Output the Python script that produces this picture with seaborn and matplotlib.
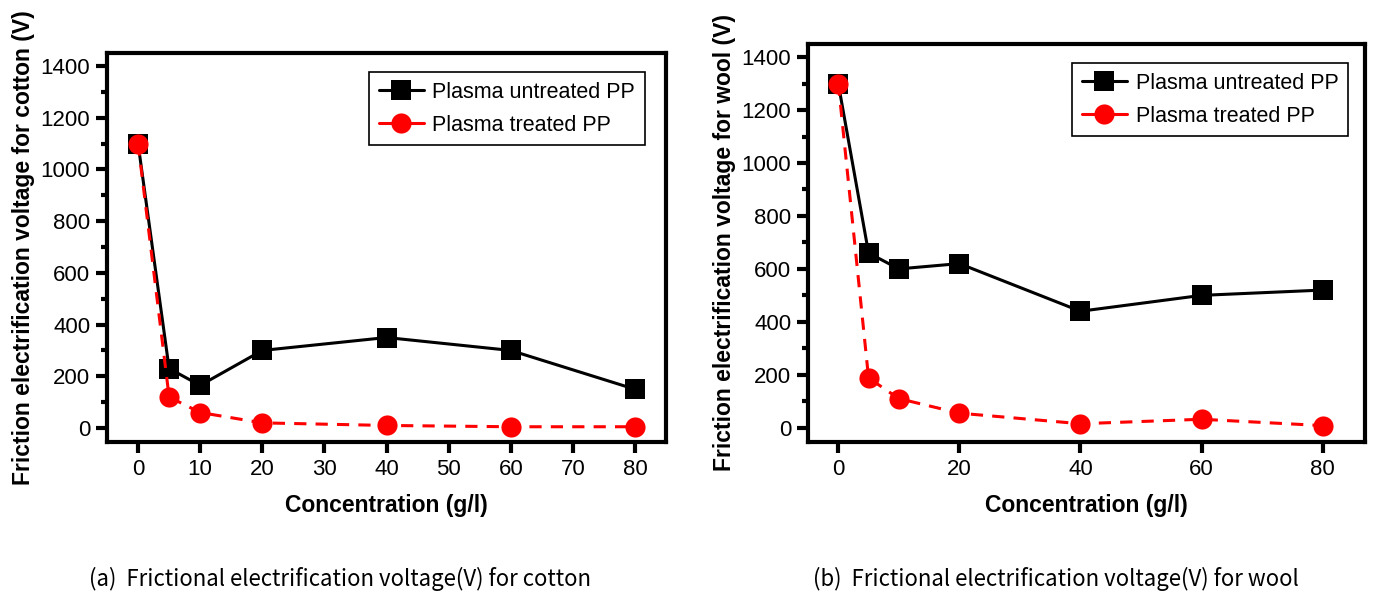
import numpy as np
import pandas as pd
import seaborn as sns
import matplotlib.pyplot as plt
from matplotlib.ticker import MultipleLocator

conc = [0, 5, 10, 20, 40, 60, 80]

cotton_untreated = [1100, 230, 165, 300, 350, 300, 150]
cotton_treated = [1100, 120, 60, 20, 10, 5, 5]

wool_untreated = [1300, 660, 600, 620, 440, 500, 520]
wool_treated = [1300, 188, 110, 55, 15, 32, 8]

series_names = ["Plasma untreated PP", "Plasma treated PP"]

sns.set_style("ticks", {
    "text.color": "black",
    "axes.labelcolor": "black",
    "xtick.color": "black",
    "ytick.color": "black",
    "axes.edgecolor": "black",
})
plt.rcParams["font.family"] = ["Liberation Sans", "DejaVu Sans"]

fig = plt.figure(figsize=(13.77, 6.06), dpi=100)

ax1 = fig.add_axes([0.0777, 0.2706, 0.406, 0.642])
ax2 = fig.add_axes([0.5868, 0.2706, 0.4045, 0.657])


def draw(ax, untreated, treated, fabric, xmax, xstep, leg_anchor):
    df = pd.DataFrame({
        "Concentration": conc * 2,
        "Voltage": untreated + treated,
        "Sample": [series_names[0]] * len(conc) + [series_names[1]] * len(conc),
    })
    sns.lineplot(
        data=df[df["Sample"] == series_names[0]],
        x="Concentration",
        y="Voltage",
        color="black",
        marker="s",
        markersize=14,
        markeredgewidth=0,
        linewidth=2.2,
        label=series_names[0],
        ax=ax,
    )
    sns.lineplot(
        data=df[df["Sample"] == series_names[1]],
        x="Concentration",
        y="Voltage",
        color="#ff0000",
        marker="o",
        markersize=14.5,
        markeredgewidth=0,
        linewidth=2.2,
        label=series_names[1],
        ax=ax,
    )
    ax.lines[1].set_linestyle((0, (4, 3)))

    ax.set_xlim(-5, xmax)
    ax.set_ylim(-54, 1450)
    ax.xaxis.set_major_locator(MultipleLocator(xstep))
    ax.yaxis.set_major_locator(MultipleLocator(200))
    ax.yaxis.set_minor_locator(MultipleLocator(100))

    for s in ax.spines.values():
        s.set_linewidth(3)
        s.set_color("black")
        s.set_visible(True)

    ax.tick_params(axis="both", which="major", direction="out", length=8,
                   width=3, labelsize=16, pad=4, colors="black")
    ax.tick_params(axis="y", which="minor", direction="out", length=4,
                   width=3, colors="black")

    ax.set_xlabel("Concentration (g/l)", fontsize=16.5, fontweight="bold",
                  labelpad=10, color="black")
    ax.set_ylabel(f"Friction electrification voltage for {fabric} (V)",
                  fontsize=16.5, fontweight="bold", labelpad=4, color="black")

    leg = ax.legend(loc="upper right", fontsize=15.5, frameon=True,
                    fancybox=False, edgecolor="black", framealpha=1,
                    handlelength=2.1, borderpad=0.45, labelspacing=0.55,
                    handletextpad=0.4, borderaxespad=0,
                    bbox_to_anchor=leg_anchor)
    leg.get_frame().set_linewidth(1.2)
    leg.get_lines()[1].set_linestyle("-")
    for t in leg.get_texts():
        t.set_color("black")


draw(ax1, cotton_untreated, cotton_treated, "cotton", 85, 10, (0.962, 0.951))
draw(ax2, wool_untreated, wool_treated, "wool", 87, 20, (0.9695, 0.952))

fig.text(0.247, 0.045, "(a)  Frictional electrification voltage(V) for cotton",
         ha="center", va="center", fontsize=16, color="black",
         family=["Noto Sans CJK KR", "DejaVu Sans"])
fig.text(0.767, 0.045, "(b)  Frictional electrification voltage(V) for wool",
         ha="center", va="center", fontsize=16, color="black",
         family=["Noto Sans CJK KR", "DejaVu Sans"])

plt.savefig("out.png", dpi=100)
